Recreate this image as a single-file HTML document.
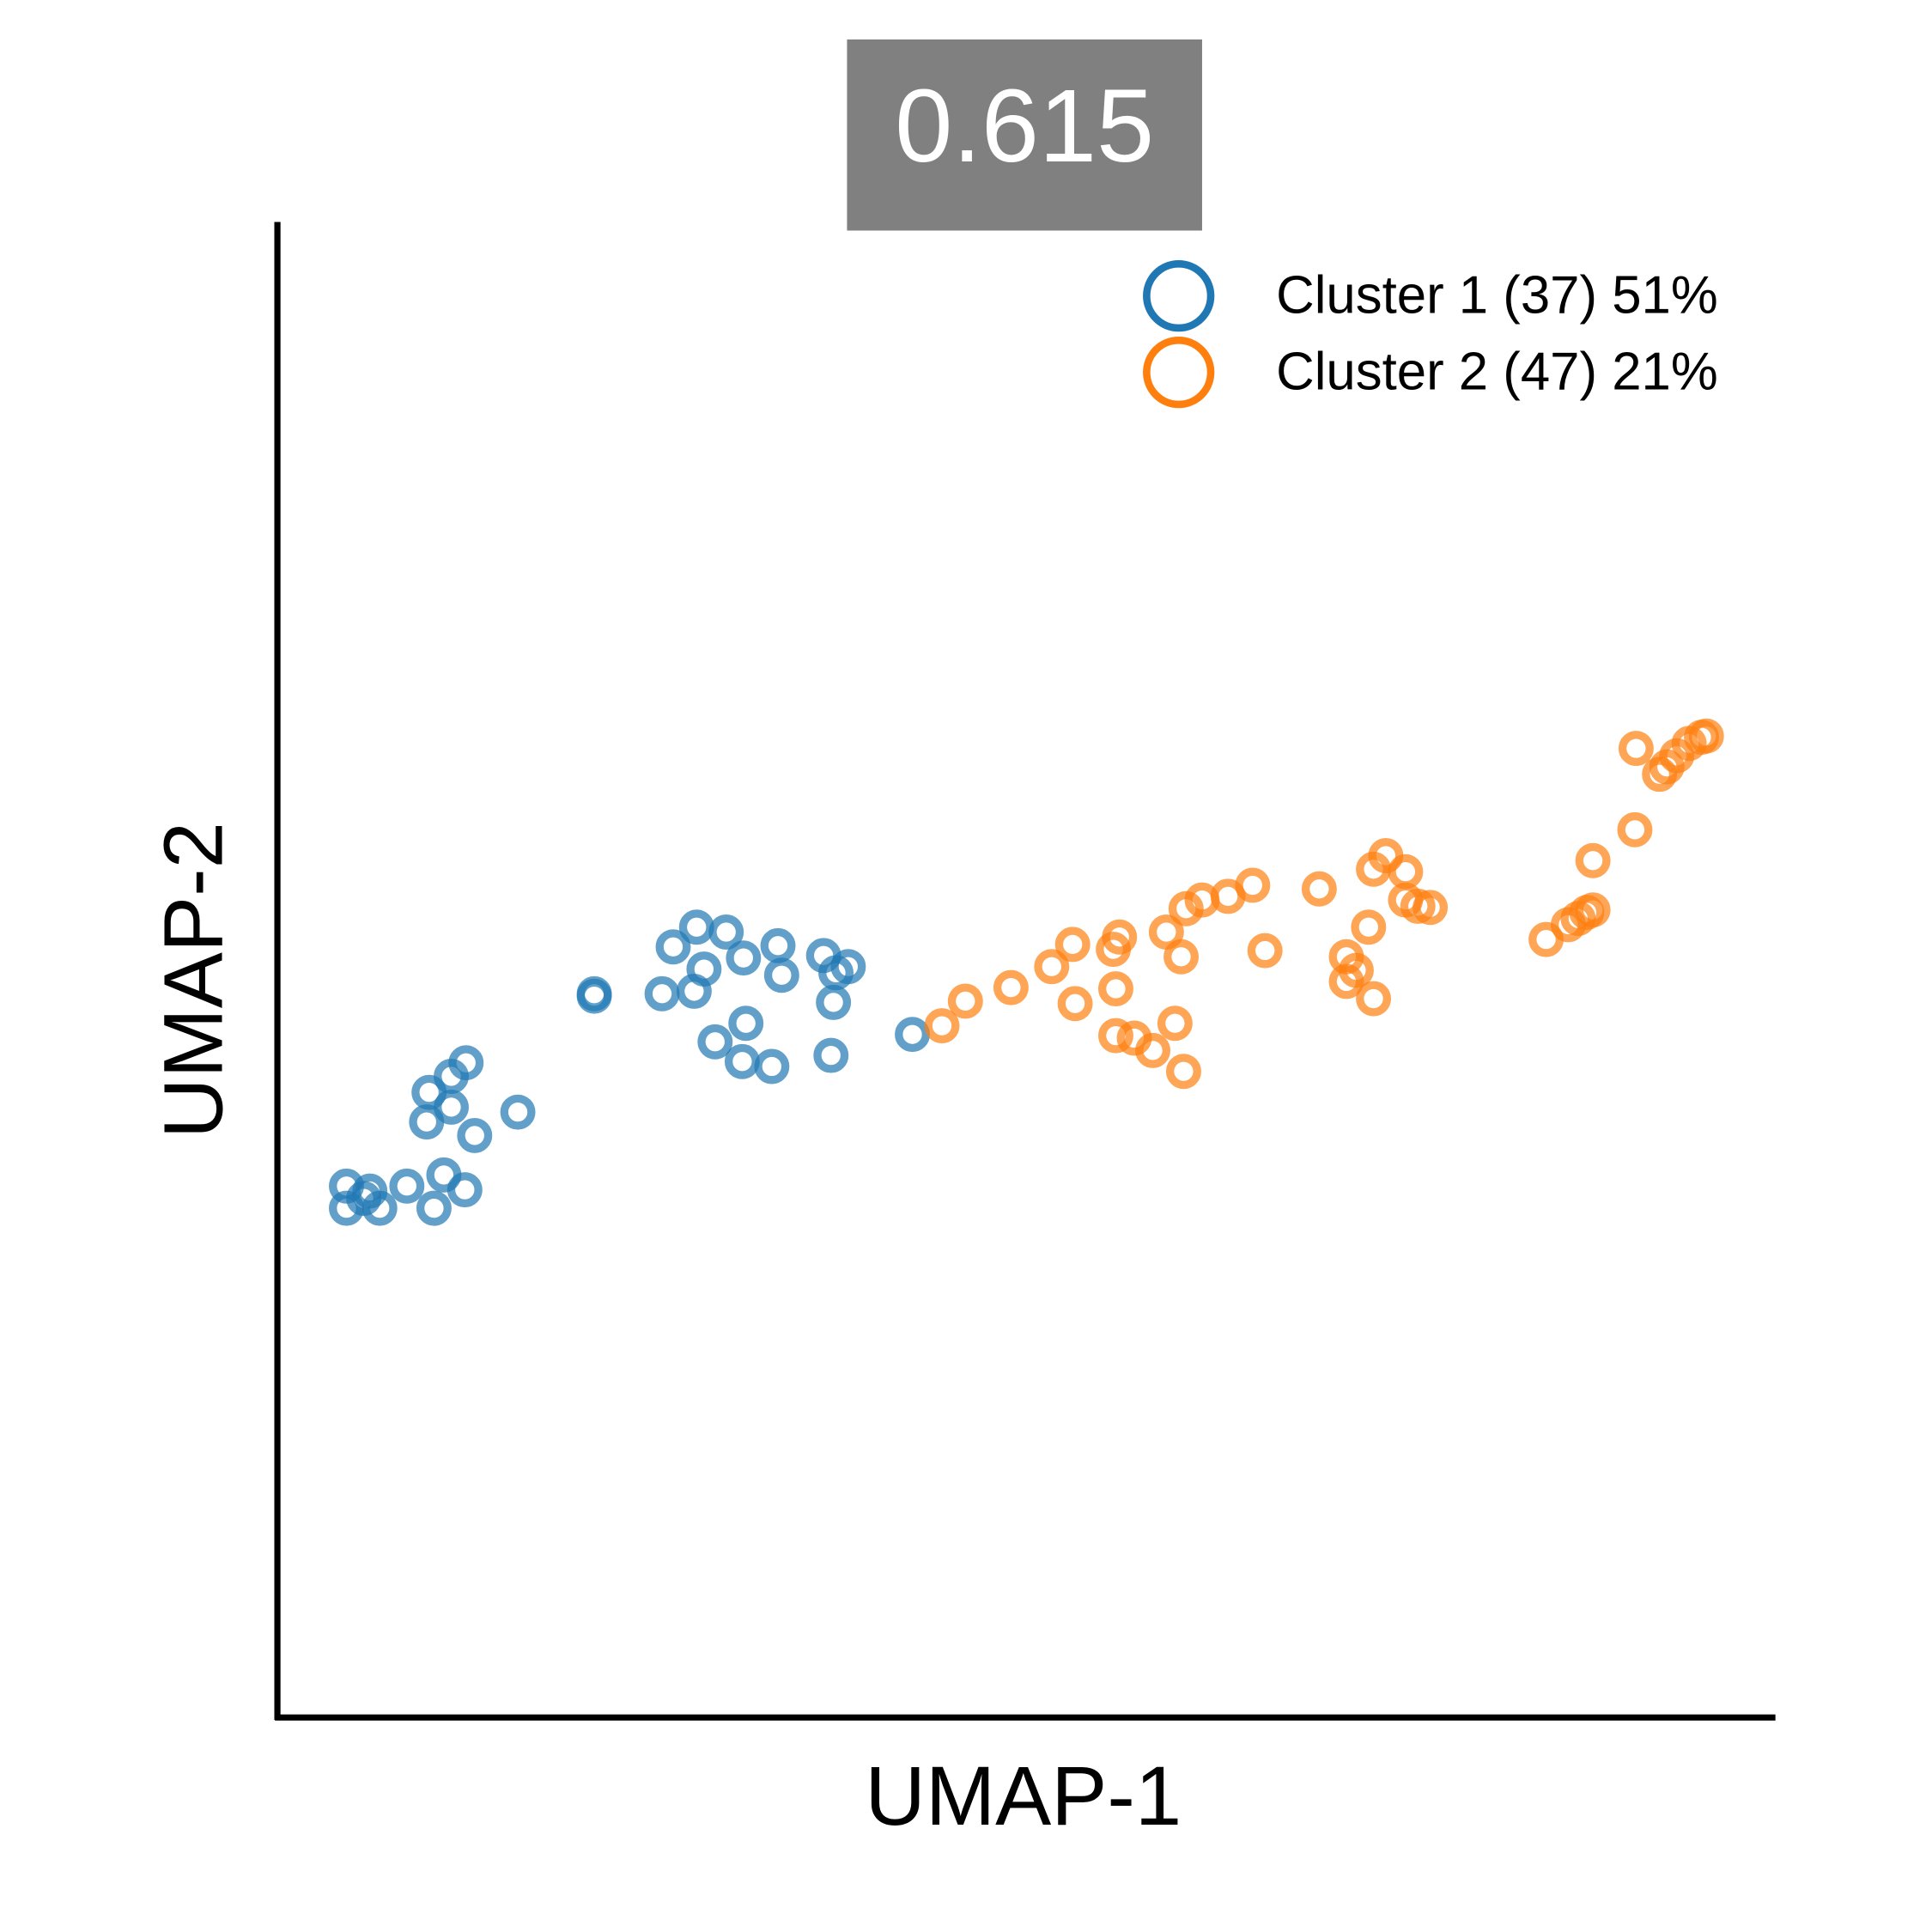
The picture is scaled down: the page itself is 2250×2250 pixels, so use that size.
<!DOCTYPE html>
<html><head><meta charset="utf-8"><style>
html,body{margin:0;padding:0;background:#fff;}
svg{display:block;font-family:"Liberation Sans",Arial,sans-serif;}
</style></head>
<body>
<svg id="chart" width="2250" height="2250" viewBox="0 0 1567 1567" xmlns="http://www.w3.org/2000/svg">
<rect x="687" y="32" width="288" height="155" fill="#808080"/>
<text x="831" y="131" font-size="84" fill="#fff" text-anchor="middle">0.615</text>
<g id="points"></g>
<line x1="225" y1="180" x2="225" y2="1395" stroke="#000" stroke-width="5"/>
<line x1="223" y1="1393" x2="1440" y2="1393" stroke="#000" stroke-width="5"/>
<text x="830" y="1480" font-size="68" text-anchor="middle">UMAP-1</text>
<text x="180" y="795" font-size="68" text-anchor="middle" transform="rotate(-90 180 795)">UMAP-2</text>
<g>
<circle cx="956" cy="240" r="26" fill="none" stroke="#1f77b4" stroke-width="6"/>
<text x="1035" y="254" font-size="43">Cluster 1 (37) 51%</text>
<circle cx="956" cy="302" r="26" fill="none" stroke="#ff7f0e" stroke-width="6"/>
<text x="1035" y="316" font-size="43">Cluster 2 (47) 21%</text>
</g>
</svg>
<script>
const cluster1X=[0.56,0.56,0.70,0.75,0.83,1.05,1.27,1.35,1.52,1.21,1.41,1.60,1.23,1.41,1.53,1.95,2.57,2.57,3.12,3.38,3.46,3.21,3.40,3.64,3.78,4.06,4.09,4.43,4.53,4.63,4.51,3.80,3.55,3.77,4.01,4.49,5.15];
const cluster1Y=[4.31,4.13,4.21,4.27,4.13,4.31,4.13,4.40,4.28,4.83,4.95,4.72,5.07,5.20,5.31,4.91,5.87,5.85,5.87,5.89,6.07,6.25,6.41,6.37,6.16,6.26,6.02,6.18,6.04,6.09,5.80,5.63,5.48,5.32,5.28,5.37,5.54];
const cluster2X=[5.39,5.58,5.95,6.28,6.45,6.47,6.78,6.83,6.80,6.80,6.95,7.10,7.28,7.35,7.21,7.33,7.37,7.50,7.71,7.91,8.01,8.45,8.67,8.75,8.67,8.89,8.85,8.89,8.99,9.15,9.15,9.25,9.35,10.29,10.47,10.55,10.62,10.67,10.67,11.01,11.02,11.21,11.27,11.35,11.45,11.55,11.59];
const cluster2Y=[5.61,5.81,5.92,6.09,6.27,5.79,6.23,6.33,5.91,5.53,5.51,5.41,5.63,5.24,6.37,6.17,6.56,6.63,6.66,6.75,6.22,6.72,6.17,6.06,5.97,5.83,6.41,6.88,6.99,6.86,6.63,6.58,6.57,6.31,6.43,6.48,6.53,6.55,6.95,7.20,7.86,7.65,7.71,7.80,7.90,7.95,7.96];
const xScale=v=>225+v*100;
const yScale=v=>1393-v*100;
const layer=document.getElementById('points');
function draw(xs,ys,color,name){
  for(let i=0;i<xs.length;i++){
    const c=document.createElementNS('http://www.w3.org/2000/svg','circle');
    c.setAttribute('cx',xScale(xs[i]));
    c.setAttribute('cy',yScale(ys[i]));
    c.setAttribute('r',11);
    c.setAttribute('fill','none');
    c.setAttribute('stroke',color);
    c.setAttribute('stroke-width',6.5);
    c.setAttribute('stroke-opacity',0.7);
    
    
    layer.appendChild(c);
  }
}
draw(cluster1X,cluster1Y,'#1f77b4','cluster-1-point');
draw(cluster2X,cluster2Y,'#ff7f0e','cluster-2-point');
</script>
</body></html>
